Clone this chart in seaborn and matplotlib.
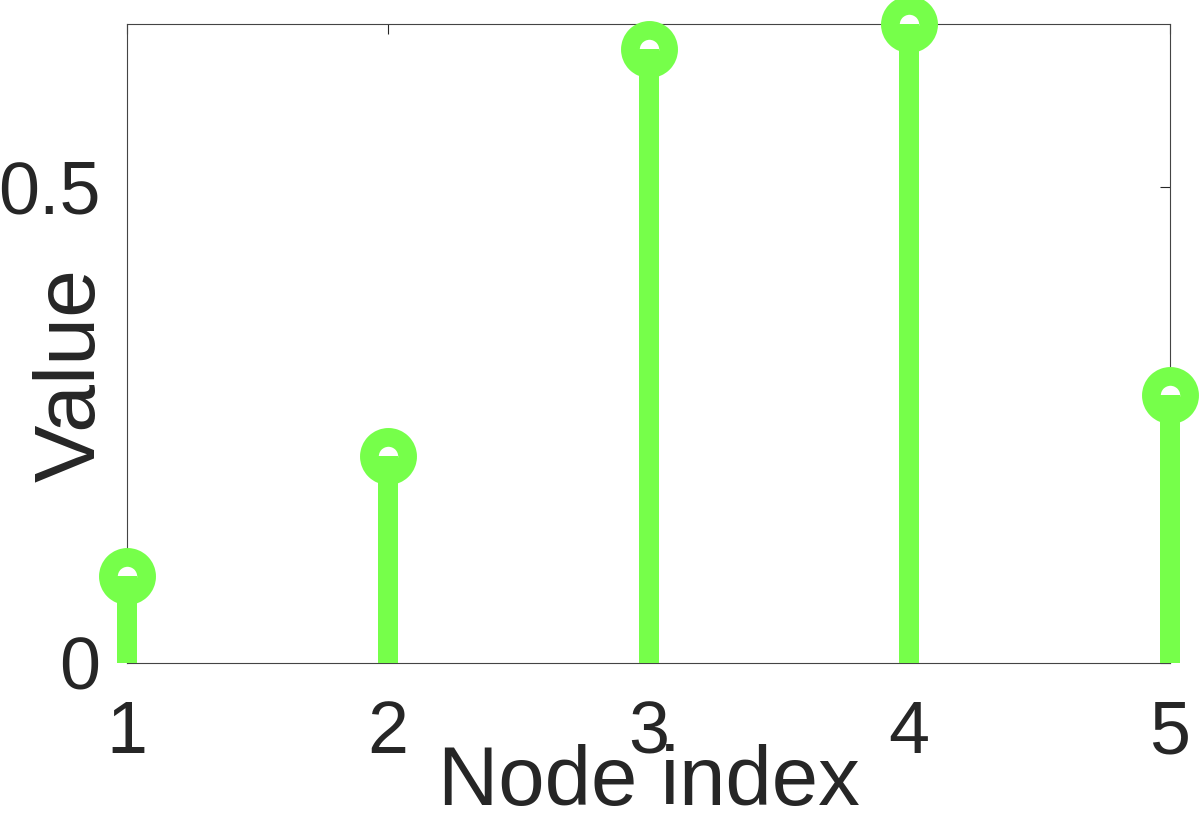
import matplotlib
matplotlib.use("Agg")
import matplotlib.pyplot as plt
import pandas as pd
import seaborn as sns

# values
node_index = [1, 2, 3, 4, 5]
node_value = [0.091, 0.217, 0.645, 0.671, 0.281]
x_ticks = [1, 2, 3, 4, 5]
y_ticks = [0, 0.5]
y_tick_labels = ["0", "0.5"]

green = "#76FF4A"
ink = "#262626"

sns.set_style("white")
plt.rcParams["font.family"] = ["Liberation Sans", "DejaVu Sans"]

df = pd.DataFrame({"node": node_index, "value": node_value})

fig = plt.figure(figsize=(12.02, 8.14), dpi=100)
ax = fig.add_axes([127 / 1202, 151 / 814, 1043 / 1202, 639 / 814])

# open circle markers, stems drawn over them (MATLAB stem look)
sns.scatterplot(
    data=df,
    x="node",
    y="value",
    s=756,
    color="white",
    edgecolor=green,
    linewidth=13.5,
    clip_on=False,
    zorder=3,
    legend=False,
    ax=ax,
)
ax.vlines(df["node"], 0, df["value"], color=green, linewidth=14.4, zorder=4, clip_on=False)

ax.set_xlim(1, 5)
ax.set_ylim(0, max(node_value))
ax.set_xticks(x_ticks)
ax.set_yticks(y_ticks)
ax.set_yticklabels(y_tick_labels)

ax.tick_params(axis="both", direction="in", length=7, width=0.8, color=ink,
               labelcolor=ink, labelsize=53, top=True, right=True)
ax.tick_params(axis="x", pad=26)
ax.tick_params(axis="y", pad=19)

for spine in ax.spines.values():
    spine.set_visible(True)
    spine.set_color("#444444")
    spine.set_linewidth(0.8)

ax.set_xlabel("Node index", fontsize=60, color=ink)
ax.set_ylabel("Value", fontsize=62, color=ink)
ax.xaxis.label.set_va("baseline")
ax.yaxis.label.set_va("baseline")
ax.xaxis.set_label_coords(0.5, -0.222)
ax.yaxis.set_label_coords(-0.0307, 0.4507)

fig.savefig("out.png", dpi=100)
